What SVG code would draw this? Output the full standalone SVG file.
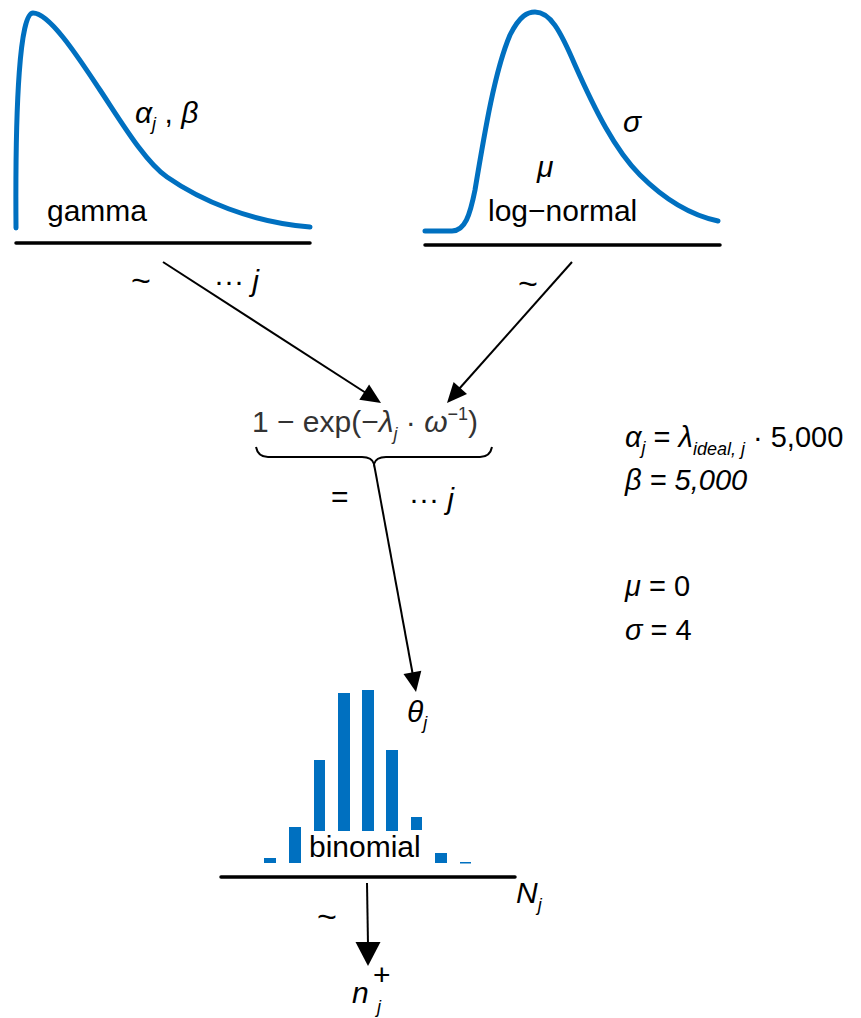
<svg xmlns="http://www.w3.org/2000/svg" width="861" height="1018" viewBox="0 0 861 1018">
<defs>
<style>
text{font-family:"Liberation Sans",Arial,sans-serif;font-size:30px;fill:#000}
.i{font-style:italic}
.sub{font-size:18px;font-style:italic}
.f29{font-size:29px}
.tilde{font-size:34px}
.curve{fill:none;stroke:#0070C0;stroke-width:5;stroke-linecap:round;stroke-linejoin:round}
.base{stroke:#000;stroke-width:3.5;stroke-linecap:round}
.conn{stroke:#000;stroke-width:2;fill:none}
.bar{fill:#0070C0}
.head{fill:#000}
</style>
</defs>
<rect width="861" height="1018" fill="#fff"/>

<g id="gamma">
<path class="curve" d="M16,228 C15,100 20,13 33,13 C50,13 80,60 100,90 C120,120 145,162 167,177 C200,200 250,222 310,227"/>
<line class="base" x1="16" y1="243" x2="310" y2="243"/>
<text x="135" y="123" class="i">α<tspan class="sub" dy="7">j</tspan><tspan dy="-7" font-style="normal"> , </tspan>β</text>
<text x="47" y="221">gamma</text>
<text x="131" y="292" class="tilde">~</text>
<text x="214" y="291">···<tspan class="i"> j</tspan></text>
</g>

<g id="lognormal">
<path class="curve" d="M425,231 L452,231 C465,231 470,215 475,190 C485,130 495,70 510,35 C520,15 528,12 535,12 C550,12 560,30 575,65 C595,110 615,150 640,175 C665,200 690,215 718,221"/>
<line class="base" x1="425" y1="245" x2="720" y2="245"/>
<text x="623" y="132" class="i">σ</text>
<text x="537" y="177" class="i">μ</text>
<text x="488" y="221">log−normal</text>
<text x="518" y="295" class="tilde">~</text>
</g>

<g id="formula">
<text x="252" y="432" font-size="31" style="fill:#333">1 − exp(−<tspan class="i">λ</tspan><tspan class="sub" dy="8">j</tspan><tspan dy="-8"> · </tspan><tspan class="i">ω</tspan><tspan font-size="18" dy="-12">−1</tspan><tspan dy="12">)</tspan></text>
<path class="conn" d="M256,447 Q258,457 268,457 L362,457 Q372,457 374,464 Q376,457 386,457 L480,457 Q490,457 492,447"/>
<text x="331" y="507">=</text>
<text x="409" y="509">···<tspan class="i"> j</tspan></text>
</g>

<g id="params">
<text x="625" y="447" class="i f29">α<tspan class="sub" dy="7">j</tspan><tspan dy="-7" font-style="normal"> = </tspan>λ<tspan class="sub" dy="8">ideal, j</tspan><tspan dy="-8" font-style="normal"> · 5,000</tspan></text>
<text x="625" y="490" class="i f29">β = 5,000</text>
<text x="625" y="596" class="f29"><tspan class="i">μ</tspan> = 0</text>
<text x="625" y="640" class="f29"><tspan class="i">σ</tspan> = 4</text>
</g>

<g id="binomial">
<rect class="bar" x="264" y="858" width="12" height="5"/>
<rect class="bar" x="289" y="827" width="12" height="36"/>
<rect class="bar" x="314" y="760" width="11" height="103"/>
<rect class="bar" x="338" y="693" width="12" height="170"/>
<rect class="bar" x="362" y="690" width="12" height="173"/>
<rect class="bar" x="386" y="750" width="12" height="113"/>
<rect class="bar" x="411" y="817" width="11" height="13"/>
<rect class="bar" x="435" y="853" width="12" height="10"/>
<rect class="bar" x="460" y="862" width="11" height="1.5"/>
<rect x="305" y="831" width="123" height="34" fill="#fff"/>
<text x="309" y="857">binomial</text>
<line class="base" x1="221" y1="877" x2="515" y2="877"/>
<text x="407" y="722" class="i">θ<tspan class="sub" dy="7">j</tspan></text>
<text x="516" y="903" class="i">N<tspan class="sub" dy="8">j</tspan></text>
<text x="317" y="928" class="tilde">~</text>
</g>

<g id="output">
<text x="352" y="1003" class="i" font-size="32">n</text>
<text x="373" y="985" font-size="16">+</text>
<text x="377" y="1013" class="sub">j</text>
</g>

<g id="connectors">
<line class="conn" x1="163" y1="262" x2="366" y2="393"/>
<path class="head" d="M381,403 L359.3,399.7 L369.1,384.5 z"/>
<line class="conn" x1="572" y1="262" x2="459" y2="389"/>
<path class="head" d="M447,403 L453.6,382 L467,394 z"/>
<line class="conn" x1="374" y1="464" x2="412.5" y2="673"/>
<path class="head" d="M416,692 L403.5,673.9 L421.3,670.7 z"/>
<line class="conn" x1="367" y1="883" x2="368" y2="945"/>
<path class="head" d="M368,966 L355.5,942 L380.5,942 z"/>
</g>
</svg>
